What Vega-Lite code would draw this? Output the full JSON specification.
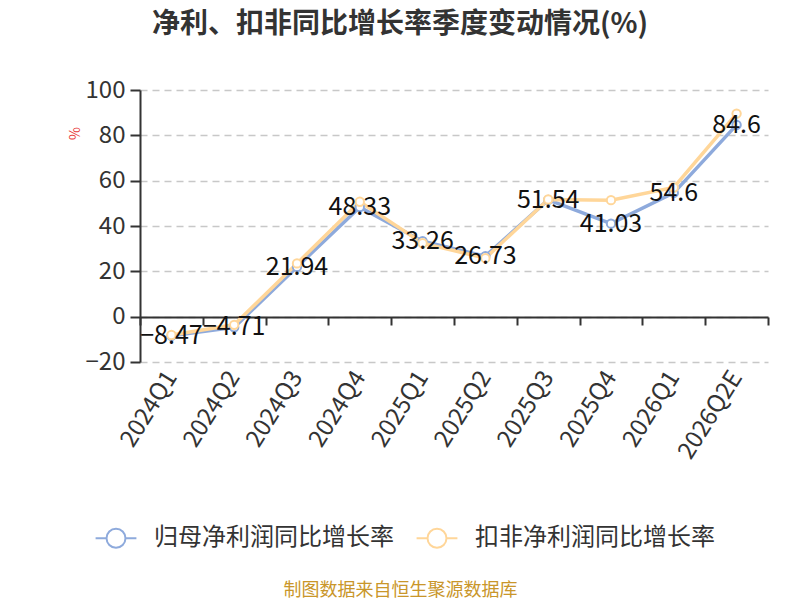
{
  "$schema": "https://vega.github.io/schema/vega-lite/v6.json",
  "width": 628,
  "height": 272,
  "autosize": {"type": "none"},
  "padding": {"left": 140, "top": 90, "right": 32, "bottom": 238},
  "background": "white",
  "config": {"font": "Noto Sans CJK SC", "view": {"stroke": null}},
  "title": {
    "text": "净利、扣非同比增长率季度变动情况(%)",
    "fontSize": 28,
    "fontWeight": "bold",
    "color": "#333333",
    "font": "Noto Sans CJK SC",
    "anchor": "middle",
    "dx": -54,
    "offset": 39
  },
  "data": {
    "values": [
      {"q": "2024Q1", "series": "归母净利润同比增长率", "value": -8.47},
      {"q": "2024Q2", "series": "归母净利润同比增长率", "value": -4.71},
      {"q": "2024Q3", "series": "归母净利润同比增长率", "value": 21.94},
      {"q": "2024Q4", "series": "归母净利润同比增长率", "value": 48.33},
      {"q": "2025Q1", "series": "归母净利润同比增长率", "value": 33.26},
      {"q": "2025Q2", "series": "归母净利润同比增长率", "value": 26.73},
      {"q": "2025Q3", "series": "归母净利润同比增长率", "value": 51.54},
      {"q": "2025Q4", "series": "归母净利润同比增长率", "value": 41.03},
      {"q": "2026Q1", "series": "归母净利润同比增长率", "value": 54.6},
      {"q": "2026Q2E", "series": "归母净利润同比增长率", "value": 84.6},
      {"q": "2024Q1", "series": "扣非净利润同比增长率", "value": -8.1},
      {"q": "2024Q2", "series": "扣非净利润同比增长率", "value": -3.6},
      {"q": "2024Q3", "series": "扣非净利润同比增长率", "value": 23.5},
      {"q": "2024Q4", "series": "扣非净利润同比增长率", "value": 50.7},
      {"q": "2025Q1", "series": "扣非净利润同比增长率", "value": 32.4},
      {"q": "2025Q2", "series": "扣非净利润同比增长率", "value": 25.8},
      {"q": "2025Q3", "series": "扣非净利润同比增长率", "value": 51.7},
      {"q": "2025Q4", "series": "扣非净利润同比增长率", "value": 51.4},
      {"q": "2026Q1", "series": "扣非净利润同比增长率", "value": 57.0},
      {"q": "2026Q2E", "series": "扣非净利润同比增长率", "value": 89.6}
    ]
  },
  "encoding": {
    "x": {
      "field": "q",
      "type": "nominal",
      "sort": null,
      "bandPosition": 0.5,
      "scale": {"type": "band", "paddingInner": 0, "paddingOuter": 0},
      "axis": {
        "title": "制图数据来自恒生聚源数据库",
        "titleColor": "#c9962a",
        "titleFontSize": 18,
        "titleFontWeight": "normal",
        "titleX": 260,
        "titleY": 273,
        "titleAlign": "center",
        "titleBaseline": "middle",
        "offset": -45,
        "domainColor": "#333333",
        "domainWidth": 2,
        "tickColor": "#333333",
        "tickWidth": 2,
        "tickSize": 8,
        "tickBand": "extent",
        "labelAngle": -58,
        "labelAlign": "right",
        "labelBaseline": "middle",
        "labelPadding": 48,
        "labelFontSize": 24,
        "labelColor": "#333333",
        "grid": false
      }
    },
    "y": {
      "field": "value",
      "type": "quantitative",
      "scale": {"domain": [-20, 100], "nice": false},
      "axis": {
        "values": [-20, 0, 20, 40, 60, 80, 100],
        "title": "%",
        "titleColor": "#e83a3a",
        "titleFontSize": 14,
        "titleFontWeight": "normal",
        "titleX": -65,
        "titleY": 43,
        "titleAngle": -90,
        "titleAlign": "center",
        "titleBaseline": "middle",
        "domainColor": "#333333",
        "domainWidth": 2,
        "tickColor": "#333333",
        "tickWidth": 2,
        "tickSize": 10,
        "labelFontSize": 24,
        "labelColor": "#333333",
        "labelPadding": 5,
        "grid": true,
        "gridDash": [7, 5],
        "gridColor": "#c8c8c8",
        "gridWidth": 1.5
      }
    },
    "color": {
      "field": "series",
      "type": "nominal",
      "sort": ["归母净利润同比增长率", "扣非净利润同比增长率"],
      "scale": {"domain": ["归母净利润同比增长率", "扣非净利润同比增长率"], "range": ["#8eaadc", "#ffd699"]},
      "legend": {
        "title": null,
        "orient": "none",
        "direction": "horizontal",
        "legendX": -40,
        "legendY": 432,
        "symbolType": "M-1.4,0L-0.65,0M0.65,0L1.4,0M0.65,0A0.65,0.65,0,1,1,-0.65,0A0.65,0.65,0,1,1,0.65,0",
        "symbolSize": 850,
        "symbolStrokeWidth": 2,
        "labelFontSize": 24,
        "labelColor": "#333333",
        "labelLimit": 0,
        "labelOffset": 22,
        "columnPadding": 18,
        "encode": {"symbols": {"update": {"fill": {"value": "white"}, "fillOpacity": {"value": 1}}}}
      }
    }
  },
  "layer": [
    {"mark": {"type": "line", "strokeWidth": 3.5}},
    {"mark": {"type": "point", "filled": false, "fill": "white", "fillOpacity": 1, "size": 70, "strokeWidth": 2, "opacity": 1}},
    {
      "transform": [{"filter": "datum.series === '归母净利润同比增长率'"}],
      "mark": {"type": "text", "fontSize": 25, "baseline": "middle", "align": "center"},
      "encoding": {"text": {"field": "value", "type": "quantitative"}, "color": {"value": "#111111"}}
    }
  ]
}
